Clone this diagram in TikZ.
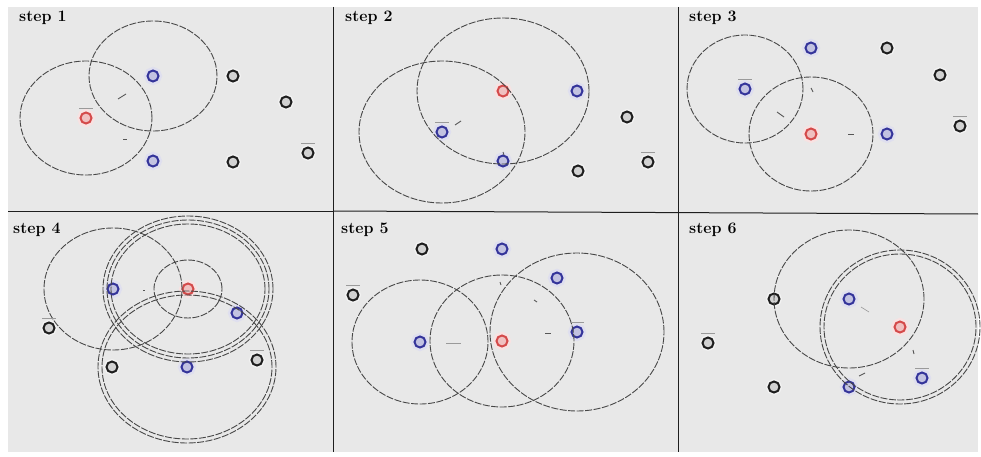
\documentclass[tikz,border=0pt]{standalone}
\usepackage{tikz}
\usetikzlibrary{arrows.meta}
\definecolor{Panel}{HTML}{E8E8E8}
\definecolor{Ring}{HTML}{474747}
\definecolor{Hub}{HTML}{34349A}
\definecolor{Seed}{HTML}{D44A4A}
\definecolor{Ink}{HTML}{1E1E1E}

\tikzset{
  zone/.style={draw=Ring,line width=0.9pt,dash pattern=on 7pt off 1.5pt},
  pt/.style={circle,inner sep=0pt,minimum size=11pt,line width=2pt},
  hubpt/.style={pt,draw=Hub,fill=Hub!30,preaction={draw=Hub!16,line width=7pt}},
  seedpt/.style={pt,draw=Seed,fill=Seed!35,preaction={draw=Seed!16,line width=7pt}},
  plainpt/.style={pt,draw=Ink,fill=Ink!20,preaction={draw=Ink!6,line width=5pt}},
  tick/.style={draw=Ink!75,line width=0.9pt},
  tag/.style={draw=Ink!45,line width=0.6pt},
  steptitle/.style={anchor=north west,inner sep=0pt,font=\fontsize{16}{16}\selectfont\bfseries}
}
\newcommand{\tagline}[1]{\draw[tag] ([xshift=-7pt,yshift=10pt]#1.center) -- ++(14,0);}

\begin{document}
\begin{tikzpicture}[x=1pt,y=-1pt]
  \useasboundingbox (0,0) rectangle (981,457);
  \fill[white] (0,0) rectangle (981,457);
  \fill[Panel] (8,7) rectangle (978,452);
  % panel borders
  \draw[Ink,line width=1pt] (8,211) -- (333,211);
  \draw[Ink,line width=1pt] (333,211) -- (978,214);
  \draw[Ink,line width=1pt] (333,7) -- (333,452);
  \draw[Ink,line width=1pt] (678,7) -- (678,452);

  % step 1
  \node[steptitle] at (19,11) {step 1};
  \node[seedpt] (a1) at (86,118) {};
  \node[hubpt] (a2) at (153,76) {};
  \node[hubpt] (a3) at (153,161) {};
  \node[plainpt] (a4) at (233,76) {};
  \node[plainpt] (a5) at (286,102) {};
  \node[plainpt] (a6) at (233,162) {};
  \node[plainpt] (a7) at (308,153) {};
  \draw[zone] (a1) ellipse [x radius=66pt,y radius=57pt];
  \draw[zone] (a2) ellipse [x radius=64pt,y radius=55pt];
  \draw[tick] (118,99) -- (126,94); \draw[tick] (123,139) -- (127,139);
  \tagline{a1} \tagline{a7}

  % step 2
  \node[steptitle] at (345,11) {step 2};
  \node[seedpt] (b1) at (503,91) {};
  \node[hubpt] (b2) at (577,91) {};
  \node[hubpt] (b3) at (442,132) {};
  \node[hubpt] (b4) at (503,161) {};
  \node[plainpt] (b5) at (627,117) {};
  \node[plainpt] (b6) at (578,171) {};
  \node[plainpt] (b7) at (648,162) {};
  \draw[zone] (b1) ellipse [x radius=86pt,y radius=73pt];
  \draw[zone] (b3) ellipse [x radius=83pt,y radius=71pt];
  \draw[tick] (455,125) -- (461,121); \draw[tick] (503,152) -- (504,155);
  \tagline{b3} \tagline{b7}

  % step 3
  \node[steptitle] at (689,11) {step 3};
  \node[hubpt] (c1) at (811,48) {};
  \node[plainpt] (c2) at (887,48) {};
  \node[plainpt] (c3) at (940,75) {};
  \node[hubpt] (c4) at (745,89) {};
  \node[seedpt] (c5) at (811,134) {};
  \node[hubpt] (c6) at (887,134) {};
  \node[plainpt] (c7) at (960,126) {};
  \draw[zone] (c4) ellipse [x radius=58pt,y radius=54pt];
  \draw[zone] (c5) ellipse [x radius=62pt,y radius=57pt];
  \draw[tick] (811,88) -- (813,92); \draw[tick] (777,112) -- (784,117);
  \draw[tick] (848,134) -- (854,134);
  \tagline{c4} \tagline{c7}

  % step 4
  \node[steptitle] at (13,223) {step 4};
  \node[seedpt] (d1) at (188,289) {};
  \node[hubpt] (d2) at (113,289) {};
  \node[hubpt] (d3) at (237,313) {};
  \node[hubpt] (d4) at (187,367) {};
  \node[plainpt] (d5) at (49,328) {};
  \node[plainpt] (d6) at (112,367) {};
  \node[plainpt] (d7) at (257,360) {};
  \draw[zone] (d2) ellipse [x radius=69pt,y radius=61pt];
  \foreach \r in {0,4,8}
    \draw[zone] (d1) ellipse [x radius={85pt-\r pt},y radius={73pt-\r pt}];
  \draw[zone] (d1) ellipse [x radius=34pt,y radius=29pt];
  \foreach \r in {0,4}
    \draw[zone] (d4) ellipse [x radius={89pt-\r pt},y radius={76pt-\r pt}];
  \draw[tick] (143,290) -- (145,290);
  \tagline{d5} \tagline{d7}

  % step 5
  \node[steptitle] at (341,223) {step 5};
  \node[plainpt] (e1) at (422,249) {};
  \node[hubpt] (e2) at (502,249) {};
  \node[hubpt] (e3) at (557,278) {};
  \node[plainpt] (e4) at (353,295) {};
  \node[hubpt] (e5) at (420,342) {};
  \node[seedpt] (e6) at (502,341) {};
  \node[hubpt] (e7) at (577,332) {};
  \draw[zone] (e5) ellipse [x radius=68pt,y radius=62pt];
  \draw[zone] (e6) ellipse [x radius=72pt,y radius=66pt];
  \draw[zone] (e7) ellipse [x radius=87pt,y radius=79pt];
  \draw[tag] (446,343) -- (461,343); \draw[tick] (545,333) -- (551,333);
  \draw[tick] (534,300) -- (537,302); \draw[tick] (500,282) -- (501,285);
  \tagline{e4} \tagline{e7}

  % step 6
  \node[steptitle] at (689,223) {step 6};
  \node[plainpt] (f1) at (774,299) {};
  \node[hubpt] (f2) at (849,299) {};
  \node[seedpt] (f3) at (900,327) {};
  \node[plainpt] (f4) at (708,343) {};
  \node[plainpt] (f5) at (774,387) {};
  \node[hubpt] (f6) at (849,387) {};
  \node[hubpt] (f7) at (922,378) {};
  \draw[zone] (f2) ellipse [x radius=75pt,y radius=69pt];
  \foreach \r in {0,4}
    \draw[zone] (f3) ellipse [x radius={80pt-\r pt},y radius={77pt-\r pt}];
  \draw[tag] (861,307) -- (869,312); \draw[tick] (913,350) -- (914,354);
  \draw[tick] (859,376) -- (865,373);
  \tagline{f4} \tagline{f7}
\end{tikzpicture}
\end{document}
